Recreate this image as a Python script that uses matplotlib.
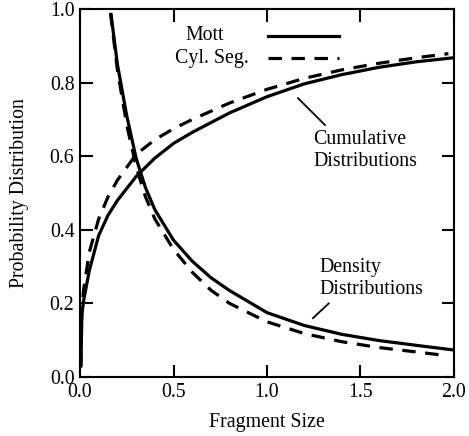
import numpy as np
import matplotlib
matplotlib.use("Agg")
import matplotlib.pyplot as plt

plt.rcParams['font.family'] = ['Liberation Serif', 'DejaVu Serif']

# values
# cumulative distributions
cum_x = [0.005, 0.01, 0.02, 0.05, 0.1, 0.15, 0.2, 0.3, 0.4, 0.5, 0.6, 0.8,
         1.0, 1.2, 1.4, 1.6, 1.8, 2.0]
mott_cum = [0.03, 0.17, 0.21, 0.29, 0.385, 0.44, 0.48, 0.545, 0.595, 0.635, 0.665, 0.718,
            0.762, 0.797, 0.822, 0.842, 0.857, 0.868]
cyl_cum_x = [0.004, 0.01, 0.02, 0.05, 0.1, 0.15, 0.2, 0.3, 0.4, 0.5, 0.6, 0.8,
             1.0, 1.2, 1.4, 1.6, 1.8, 1.97]
cyl_cum = [0.03, 0.19, 0.24, 0.34, 0.43, 0.49, 0.535, 0.605, 0.645, 0.675, 0.70, 0.745,
           0.782, 0.812, 0.835, 0.853, 0.868, 0.879]

# density distributions
mott_den_x = [0.166, 0.2, 0.25, 0.3, 0.35, 0.4, 0.5, 0.6, 0.7, 0.8, 1.0,
              1.2, 1.4, 1.6, 1.8, 1.99]
mott_den = [0.985, 0.85, 0.71, 0.595, 0.515, 0.455, 0.372, 0.315, 0.27, 0.235, 0.175,
            0.14, 0.116, 0.099, 0.086, 0.074]
cyl_den_x = [0.163, 0.2, 0.25, 0.3, 0.35, 0.4, 0.5, 0.6, 0.7, 0.8, 1.0,
             1.2, 1.4, 1.6, 1.8, 1.93]
cyl_den = [0.99, 0.835, 0.685, 0.572, 0.49, 0.43, 0.347, 0.285, 0.236, 0.2, 0.15,
           0.118, 0.096, 0.08, 0.068, 0.06]

x_ticks = [0.0, 0.5, 1.0, 1.5, 2.0]
y_ticks = [0.0, 0.2, 0.4, 0.6, 0.8, 1.0]
series_names = ['Mott', 'Cyl. Seg.']

fs = 14.3
lw = 2.3
dash = (0, (4.2, 3.0))

fig = plt.figure(figsize=(4.69, 4.36), dpi=100)
ax = fig.add_axes([0.1706, 0.1353, 0.7974, 0.8437])

ax.plot(cum_x, mott_cum, 'k-', lw=lw)
ax.plot(cyl_cum_x, cyl_cum, color='k', ls=dash, lw=lw)
ax.plot(mott_den_x, mott_den, 'k-', lw=lw)
ax.plot(cyl_den_x, cyl_den, color='k', ls=dash, lw=lw)

ax.set_xlim(0, 2.0)
ax.set_ylim(0, 1.0)
ax.set_xticks(x_ticks)
ax.set_yticks(y_ticks)
ax.set_xticklabels([f"{v:.1f}" for v in x_ticks])
ax.set_yticklabels([f"{v:.1f}" for v in y_ticks])
ax.tick_params(direction='in', length=9, width=1.5, top=True, right=True,
               labelsize=fs, pad=4)
for sp in ax.spines.values():
    sp.set_linewidth(1.5)

ax.set_xlabel('Fragment Size', fontsize=fs, labelpad=8)
ax.set_ylabel('Probability Distribution', fontsize=fs, labelpad=15)

# annotations
ax.text(1.246, 0.615, 'Cumulative\nDistributions', fontsize=fs, va='center', ha='left')
ax.plot([1.166, 1.31], [0.758, 0.685], 'k-', lw=1.3)
ax.text(1.278, 0.268, 'Density\nDistributions', fontsize=fs, va='center', ha='left')
ax.plot([1.33, 1.246], [0.20, 0.16], 'k-', lw=1.3)

# key (label to the left of the line sample)
tr = ax.transAxes
ax.text(0.281, 0.928, series_names[0], fontsize=fs, va='center', ha='left', transform=tr)
ax.text(0.255, 0.866, series_names[1], fontsize=fs, va='center', ha='left', transform=tr)
ax.plot([0.503, 0.693], [0.928, 0.928], 'k-', lw=lw, transform=tr)
ax.plot([0.503, 0.693], [0.866, 0.866], color='k', ls=dash, lw=lw, transform=tr)

fig.savefig('out.png', dpi=100)
